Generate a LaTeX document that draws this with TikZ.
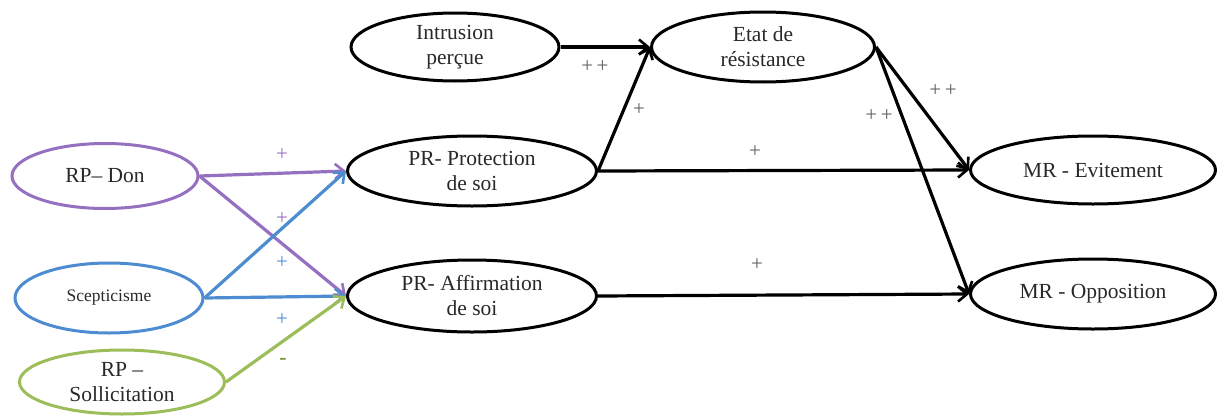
\documentclass[tikz,border=0pt]{standalone}
\usepackage{fontspec}
\setmainfont{Liberation Serif}
\usetikzlibrary{shapes.geometric,arrows.meta}
\definecolor{cpurple}{RGB}{150,112,192}
\definecolor{cblue}{RGB}{78,140,210}
\definecolor{cgreen}{RGB}{155,190,90}
\definecolor{ctext}{RGB}{40,40,40}
\definecolor{clabel}{RGB}{95,95,95}
\tikzset{
  oval/.style={ellipse, draw=black, line width=3pt, inner sep=0pt, align=center,
    text=ctext, font=\fontsize{21.5}{25}\selectfont},
  arr/.style={line width=3.2pt, -{Straight Barb[length=9pt,width=15pt,line width=2.6pt]}},
  lbl/.style={text=clabel, font=\fontsize{21}{22}\selectfont, inner sep=0pt},
}
\begin{document}
\begin{tikzpicture}[x=1pt,y=-1pt]
\useasboundingbox (0,0) rectangle (1217,415);
% nodes
\node[oval, draw=cpurple, minimum width=186pt, minimum height=65pt] (don) at (105,176) {RP– Don};
\node[oval, draw=cblue, minimum width=188pt, minimum height=70pt] (scep) at (109,298) {\fontsize{17.5}{20}\selectfont Scepticisme};
\node[oval, draw=cgreen, minimum width=205pt, minimum height=64pt] (sol) at (122,382) {RP –\\Sollicitation};
\node[oval, minimum width=208pt, minimum height=68pt] (intr) at (455,47) {Intrusion\\perçue};
\node[oval, minimum width=223pt, minimum height=70pt] (etat) at (763,47) {Etat de\\résistance};
\node[oval, minimum width=249pt, minimum height=70pt] (prot) at (472,171) {PR- Protection\\de soi};
\node[oval, minimum width=249pt, minimum height=72pt] (aff) at (472,296) {PR- Affirmation\\de soi};
\node[oval, minimum width=245pt, minimum height=68pt] (evit) at (1093,170) {MR - Evitement};
\node[oval, minimum width=245pt, minimum height=70pt] (opp) at (1093,294) {MR - Opposition};
% coloured connectors
\draw[arr, cpurple] (don.east) -- (prot.west);
\draw[arr, cpurple] (don.east) -- (aff.west);
\draw[arr, cblue] (scep.east) -- (prot.west);
\draw[arr, cblue] (scep.east) -- (aff.west);
\draw[arr, cgreen] (sol.east) -- (aff.west);
% black connectors
\draw[arr] (intr.east) -- (etat.west);
\draw[arr] (prot.east) -- (etat.west);
\draw[arr] (prot.east) -- (evit.west);
\draw[arr] (etat.east) -- (evit.west);
\draw[arr] (etat.east) -- (opp.west);
\draw[arr] (aff.east) -- (opp.west);
% labels
\node[lbl, text=cpurple] (l1) at (282,155) {+};
\node[lbl, text=cpurple] (l2) at (282,219) {+};
\node[lbl, text=cblue] (l3) at (282,263) {+};
\node[lbl, text=cblue] (l4) at (282,320) {+};
\node[lbl, text=cgreen!80!black, font=\bfseries\fontsize{22}{22}\selectfont] (l5) at (283,361) {-};
\node[lbl] (l6) at (595,67) {+\,+};
\node[lbl] (l7) at (639,110) {+};
\node[lbl] (l8) at (755,152) {+};
\node[lbl] (l9) at (943,91) {+\,+};
\node[lbl] (l10) at (879,116) {+\,+};
\node[lbl] (l11) at (757,265) {+};
\end{tikzpicture}
\end{document}
